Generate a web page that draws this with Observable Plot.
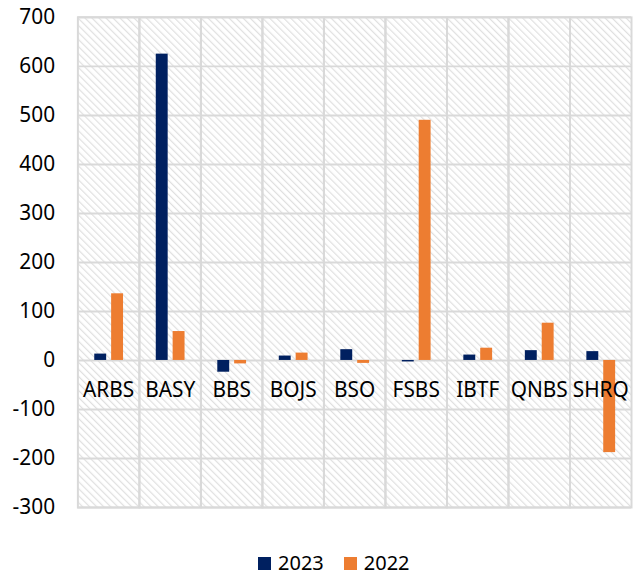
<!DOCTYPE html>
<html>
<head>
<meta charset="utf-8">
<script src="https://cdn.jsdelivr.net/npm/d3@7"></script>
<script src="https://cdn.jsdelivr.net/npm/@observablehq/plot@0.6"></script>
<style>
  html, body { margin: 0; padding: 0; background: #fff; overflow: hidden; }
  #chart { width: 633px; height: 530px; overflow: hidden; }
  #chart svg { display: block; }
  .legend { display: flex; justify-content: flex-start; align-items: center; margin-top: 21px; padding-left: 258px;
            font-family: 'Noto Sans', sans-serif; font-size: 20px; color: #000; line-height: 24px; }
  .legend .item { display: flex; align-items: center; margin-right: 20px; }
  .legend .sw { width: 13px; height: 13px; margin-right: 7px; }
</style>
</head>
<body>
<div id="chart"></div>
<script>
const categories = ["ARBS", "BASY", "BBS", "BOJS", "BSO", "FSBS", "IBTF", "QNBS", "SHRQ"];
const seriesNames = ["2023", "2022"];
const values2023 = [13, 625, -24, 9, 22, -3, 11, 20, 18];
const values2022 = [136, 59, -7, 15, -6, 490, 25, 76, -188];
const yTicks = [-300, -200, -100, 0, 100, 200, 300, 400, 500, 600, 700];
const colors = ["#002060", "#ED7D31"];

const data = categories.flatMap((c, i) => [
  {cat: c, series: seriesNames[0], value: values2023[i]},
  {cat: c, series: seriesNames[1], value: values2022[i]}
]);

const chart = Plot.plot({
  width: 638,
  height: 530,
  marginLeft: 75,
  marginRight: 0,
  marginTop: 17,
  marginBottom: 19,
  style: {fontFamily: "'Noto Sans', sans-serif", fontSize: "21px", color: "#000", background: "#fff"},
  fx: {domain: categories, padding: 0, axis: null, label: null},
  x: {domain: seriesNames, paddingInner: 0.3, paddingOuter: 0.9, axis: null},
  y: {domain: [-300, 700], label: null},
  color: {domain: seriesNames, range: colors},
  marks: [
    Plot.frame({fill: "url(#hatch)", stroke: "none"}),
    Plot.gridY(yTicks, {stroke: "#d9d9d9", strokeOpacity: 1, strokeWidth: 2}),
    Plot.frame({stroke: "#d9d9d9", strokeWidth: 2}),
    Plot.barY(data, {fx: "cat", x: "series", y: "value", fill: "series"}),
    Plot.text(categories, {fx: d => d, y: 0, dy: 30, text: d => d, frameAnchor: "middle", fill: "#000", fontSize: 21}),
    Plot.axisY(yTicks, {tickSize: 0, tickPadding: 23, label: null, fill: "#000", fontSize: 21, tickFormat: d => String(d)})
  ]
});

// hatch pattern
const ns = "http://www.w3.org/2000/svg";
const defs = document.createElementNS(ns, "defs");
defs.innerHTML = `<pattern id="hatch" patternUnits="userSpaceOnUse" width="5" height="5" patternTransform="rotate(-45)">
  <rect x="0" y="0" width="5" height="5" fill="#ffffff"></rect>
  <rect x="0" y="0" width="1.2" height="5" fill="#e0e0e0"></rect>
</pattern>`;
chart.insertBefore(defs, chart.firstChild);

document.getElementById("chart").appendChild(chart);

const legend = document.createElement("div");
legend.className = "legend";
seriesNames.forEach((s, i) => {
  const item = document.createElement("div");
  item.className = "item";
  const sw = document.createElement("span");
  sw.className = "sw";
  sw.style.background = colors[i];
  const t = document.createElement("span");
  t.textContent = s;
  item.appendChild(sw);
  item.appendChild(t);
  legend.appendChild(item);
});
document.body.appendChild(legend);
</script>
</body>
</html>
